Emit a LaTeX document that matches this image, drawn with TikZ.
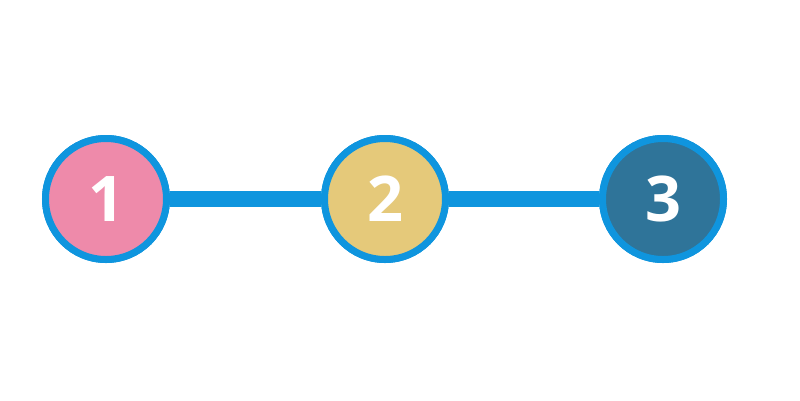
\documentclass[tikz,border=0pt]{standalone}
\usepackage{fontspec}
\setmainfont{Open Sans}
\definecolor{lineblue}{HTML}{0F95DE}
\definecolor{cpink}{HTML}{EE8AAA}
\definecolor{cyellow}{HTML}{E5C97A}
\definecolor{cteal}{HTML}{2F7499}
\begin{document}
\begin{tikzpicture}[x=1pt,y=-1pt,
  stepcircle/.style={circle,draw=lineblue,line width=7pt,minimum size=121pt,inner sep=0pt,
    text=white,font=\fontsize{63}{63}\selectfont\bfseries},
  conn/.style={draw=lineblue,line width=16pt}]
\useasboundingbox (0,0) rectangle (800,400);
\node[stepcircle,fill=cpink] (a) at (106,199) {};
\node[stepcircle,fill=cyellow] (b) at (385,199) {};
\node[stepcircle,fill=cteal] (c) at (663,199) {};
\path[conn] (a.east) -- (b.west);
\path[conn] (b.east) -- (c.west);
\node[stepcircle,fill=cpink] at (a) {1};
\node[stepcircle,fill=cyellow] at (b) {2};
\node[stepcircle,fill=cteal] at (c) {3};
\end{tikzpicture}
\end{document}
